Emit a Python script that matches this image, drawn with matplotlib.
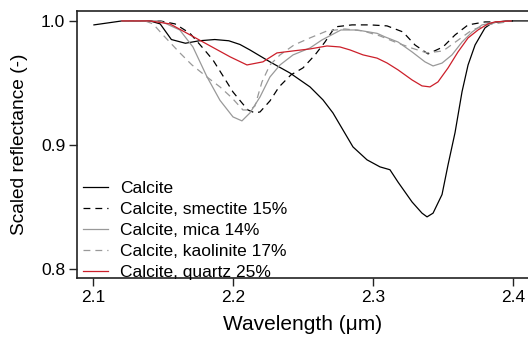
import matplotlib
matplotlib.use('Agg')
import matplotlib.pyplot as plt

plt.rcParams['font.family'] = ['Liberation Sans', 'DejaVu Sans']

# Calcite (pure)
calcite_x = [2.1007, 2.1207, 2.1407, 2.148, 2.156, 2.166, 2.176, 2.187, 2.197, 2.205,
             2.2121, 2.2264, 2.2407, 2.255, 2.2643, 2.2714, 2.2786, 2.2857, 2.2957, 2.305,
             2.3121, 2.3179, 2.3279, 2.335, 2.3386, 2.3429, 2.3493, 2.3536, 2.3586, 2.3636,
             2.3679, 2.3729, 2.38, 2.385, 2.395, 2.411]
calcite_y = [0.9968, 1.0, 1.0, 0.9976, 0.985, 0.982, 0.984, 0.985, 0.984, 0.981,
             0.9766, 0.967, 0.958, 0.9468, 0.9363, 0.9258, 0.912, 0.8984, 0.888, 0.8823,
             0.880, 0.870, 0.854, 0.845, 0.842, 0.845, 0.860, 0.884, 0.910, 0.943,
             0.9645, 0.9806, 0.9944, 0.9984, 1.0, 1.0]

# Calcite, smectite 15%
smectite_x = [2.1207, 2.1479, 2.1586, 2.1693, 2.1786, 2.1857, 2.1929, 2.2, 2.2064, 2.2107,
              2.2157, 2.2193, 2.2264, 2.2329, 2.2414, 2.25, 2.2586, 2.2657, 2.2729, 2.285,
              2.2979, 2.31, 2.3214, 2.33, 2.3393, 2.35, 2.3586, 2.3679, 2.38, 2.3907, 2.40]
smectite_y = [1.0, 1.0, 0.9976, 0.990, 0.978, 0.9685, 0.9556, 0.9427, 0.9339, 0.9282,
              0.9258, 0.9266, 0.9355, 0.9468, 0.9565, 0.9621, 0.9726, 0.983, 0.9952, 0.9968,
              0.9968, 0.996, 0.9911, 0.9806, 0.9734, 0.979, 0.9887, 0.9968, 0.9992, 0.9992, 1.0]

# Calcite, mica 14%
mica_x = [2.1207, 2.1479, 2.162, 2.1714, 2.1814, 2.1907, 2.2, 2.2064, 2.2121, 2.2193,
          2.2264, 2.2336, 2.2429, 2.255, 2.2636, 2.2771, 2.2886, 2.3029, 2.3086, 2.3179,
          2.3279, 2.3371, 2.3429, 2.3493, 2.3564, 2.3636, 2.3707, 2.3779, 2.3886, 2.3986]
mica_y = [1.0, 1.0, 0.9927, 0.979, 0.955, 0.936, 0.9226, 0.9194, 0.9258, 0.9387,
          0.9548, 0.9645, 0.9726, 0.9782, 0.9847, 0.9927, 0.9927, 0.990, 0.9871, 0.983,
          0.975, 0.967, 0.9637, 0.966, 0.9726, 0.983, 0.991, 0.9968, 0.9992, 1.0]

# Calcite, kaolinite 17%
kaolinite_x = [2.1207, 2.1371, 2.1429, 2.15, 2.1621, 2.1707, 2.1814, 2.1907, 2.1993, 2.2071,
               2.2121, 2.2157, 2.2207, 2.2264, 2.2336, 2.2436, 2.255, 2.2671, 2.28, 2.2929,
               2.305, 2.3157, 2.3279, 2.3386, 2.35, 2.36, 2.3707, 2.3814, 2.3957]
kaolinite_y = [1.0, 1.0, 0.9976, 0.9887, 0.9742, 0.9645, 0.9548, 0.9468, 0.9379, 0.9282,
               0.9282, 0.9314, 0.9508, 0.9645, 0.9726, 0.9806, 0.9863, 0.9919, 0.9935, 0.9919,
               0.9879, 0.983, 0.978, 0.9742, 0.9758, 0.9839, 0.9927, 0.9968, 0.9992]

# Calcite, quartz 25%
quartz_x = [2.1207, 2.1407, 2.155, 2.1786, 2.198, 2.210, 2.2214, 2.2314, 2.2429, 2.255,
            2.2671, 2.2764, 2.2836, 2.2929, 2.3029, 2.31, 2.3179, 2.3279, 2.335, 2.3407,
            2.3464, 2.3536, 2.3607, 2.3679, 2.375, 2.3821, 2.3871, 2.3986]
quartz_y = [1.0, 1.0, 0.9976, 0.983, 0.971, 0.9645, 0.967, 0.9742, 0.9758, 0.9774,
            0.9798, 0.979, 0.9766, 0.9726, 0.970, 0.9661, 0.9605, 0.9524, 0.9476, 0.9468,
            0.9508, 0.9621, 0.975, 0.9863, 0.9927, 0.9976, 0.9992, 1.0]

fig = plt.figure(figsize=(5.28, 3.37), dpi=100)
ax = fig.add_axes([77 / 528, 1 - 278 / 337, 1 - 77 / 528, (278 - 11) / 337])

lw = 0.9
ax.plot(calcite_x, calcite_y, color='black', lw=lw, label='Calcite')
ax.plot(smectite_x, smectite_y, color='black', lw=lw, dashes=(5.5, 4), label='Calcite, smectite 15%')
ax.plot(mica_x, mica_y, color='#999999', lw=lw, label='Calcite, mica 14%')
ax.plot(kaolinite_x, kaolinite_y, color='#999999', lw=lw, dashes=(5.5, 4), label='Calcite, kaolinite 17%')
ax.plot(quartz_x, quartz_y, color='#cc1f2a', lw=lw, label='Calcite, quartz 25%')

ax.set_xlim(2.0886, 2.4107)
ax.set_ylim(0.7927, 1.008)
ax.set_xticks([2.1, 2.2, 2.3, 2.4])
ax.set_yticks([0.8, 0.9, 1.0])
ax.set_xticklabels(['2.1', '2.2', '2.3', '2.4'])
ax.set_yticklabels(['0.8', '0.9', '1.0'])

for s in ['left', 'bottom', 'top']:
    ax.spines[s].set_linewidth(1.2)
    ax.spines[s].set_color('#222222')
ax.spines['right'].set_visible(False)
ax.tick_params(direction='out', length=5.5, width=1, color='#222222', labelsize=12.5, pad=3)

ax.set_xlabel('Wavelength (μm)', fontsize=15, labelpad=7)
ax.set_ylabel('Scaled reflectance (-)', fontsize=13.8, labelpad=9)

ax.legend(loc='lower left', bbox_to_anchor=(83 / 528, 1 - 280 / 337),
          bbox_transform=fig.transFigure, frameon=False, fontsize=12.5,
          handlelength=1.45, handletextpad=0.7, labelspacing=0.33,
          borderpad=0, borderaxespad=0)

fig.savefig('out.png', dpi=100)
